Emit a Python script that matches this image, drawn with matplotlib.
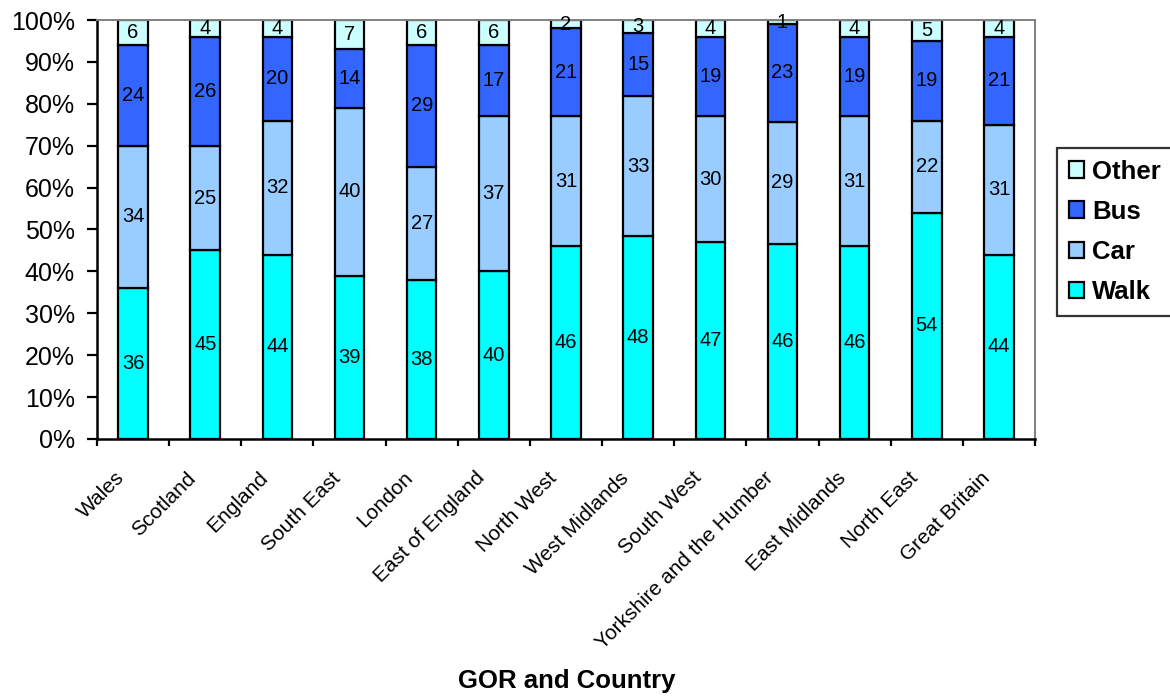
import numpy as np
import matplotlib.pyplot as plt
from matplotlib.transforms import ScaledTranslation
from matplotlib.ticker import FixedLocator, PercentFormatter

plt.rcParams['font.family'] = ['Liberation Sans', 'DejaVu Sans']

regions = ["Wales", "Scotland", "England", "South East", "London", "East of England",
           "North West", "West Midlands", "South West", "Yorkshire and the Humber",
           "East Midlands", "North East", "Great Britain"]
walk = [36, 45, 44, 39, 38, 40, 46, 48, 47, 46, 46, 54, 44]
car = [34, 25, 32, 40, 27, 37, 31, 33, 30, 29, 31, 22, 31]
bus = [24, 26, 20, 14, 29, 17, 21, 15, 19, 23, 19, 19, 21]
other = [6, 4, 4, 7, 6, 6, 2, 3, 4, 1, 4, 5, 4]

series = [("Walk", walk, "#00FFFF"), ("Car", car, "#99CCFF"),
          ("Bus", bus, "#3366FF"), ("Other", other, "#CCFFFF")]

# 100% stacked: normalise each column by its total
totals = np.array(walk) + np.array(car) + np.array(bus) + np.array(other)

fig = plt.figure(figsize=(11.7, 6.97), dpi=100)
ax = fig.add_axes([97 / 1170, 1 - 439 / 697, (1035 - 97) / 1170, (439 - 20) / 697])

x = np.arange(len(regions))
bottom = np.zeros(len(regions))
handles = []
for name, vals, col in series:
    pct = np.array(vals) / totals * 100
    h = ax.bar(x, pct, bottom=bottom, width=0.41, color=col, edgecolor="black",
               linewidth=1.6, label=name)
    handles.append(h)
    for xi, b, p, v in zip(x, bottom, pct, vals):
        ax.text(xi, b + p / 2, str(v), ha="center", va="center", fontsize=14.5)
    bottom += pct

ax.set_xlim(-0.5, len(regions) - 0.5)
ax.set_ylim(0, 100)
ax.yaxis.set_major_locator(FixedLocator(np.arange(0, 101, 10)))
ax.yaxis.set_major_formatter(PercentFormatter(decimals=0))
ax.tick_params(axis="y", labelsize=18, length=7, width=1.6, direction="out", pad=9)

# ticks sit between categories, labels under bars
ax.set_xticks(np.arange(-0.5, len(regions) - 0.4, 1))
ax.set_xticklabels([])
ax.set_xticks(x, minor=True)
ax.set_xticklabels(regions, minor=True, rotation=45, ha="right", va="center",
                   rotation_mode="anchor", fontsize=15)
ax.tick_params(axis="x", which="major", length=5, width=1.6, direction="out")
ax.tick_params(axis="x", which="minor", length=0, pad=26)
shift = ScaledTranslation(-0.12, 0, fig.dpi_scale_trans)
for lbl in ax.get_xticklabels(minor=True):
    lbl.set_transform(lbl.get_transform() + shift)

for s in ["left", "bottom"]:
    ax.spines[s].set_linewidth(1.8)
    ax.spines[s].set_color("black")
for s in ["top", "right"]:
    ax.spines[s].set_linewidth(1.4)
    ax.spines[s].set_color("#808080")

fig.text(567 / 1170, 1 - 681 / 697, "GOR and Country", fontsize=18.5,
         fontweight="bold", ha="center", va="center")

leg = fig.legend(handles[::-1], [s[0] for s in series][::-1],
                 loc="upper left", bbox_to_anchor=(1057 / 1170, 1 - 148 / 697),
                 prop={"size": 18.5, "weight": "bold"}, frameon=True, fancybox=False,
                 handlelength=0.62, handleheight=0.62, handletextpad=0.3,
                 labelspacing=0.63, borderpad=0.45, borderaxespad=0)
leg.get_frame().set_edgecolor("black")
leg.get_frame().set_linewidth(1.6)

fig.savefig("out.png", dpi=100)
